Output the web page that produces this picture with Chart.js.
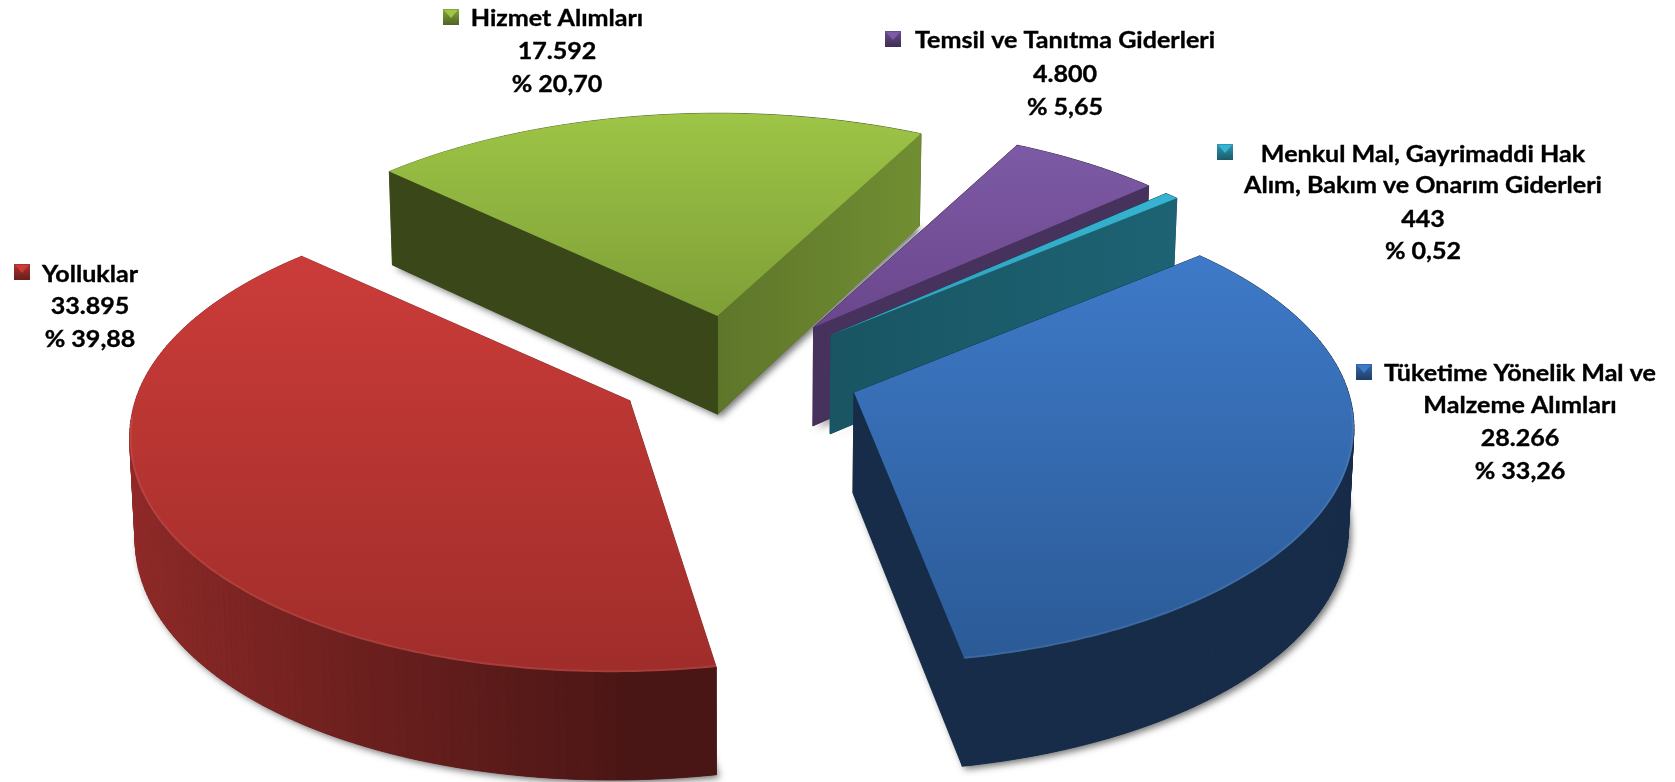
<!DOCTYPE html>
<html lang="tr"><head><meta charset="utf-8">
<style>html,body{margin:0;padding:0;background:#fff;overflow:hidden}canvas{display:block}</style>
<script src="https://cdn.jsdelivr.net/npm/chart.js@4"></script>
</head><body><canvas id="c" width="1675" height="782"></canvas>
<script>
const categories = ["Yolluklar","Hizmet Alımları","Temsil ve Tanıtma Giderleri","Menkul Mal, Gayrimaddi Hak\nAlım, Bakım ve Onarım Giderleri","Tüketime Yönelik Mal ve\nMalzeme Alımları"];
const values = [33895,17592,4800,443,28266];
const topColors = ["#cb3c39","#9dc546","#7d5aa5","#35b4d2","#3e7ac8"];
const bottomColors = ["#a02d2a","#7f9f37","#6a468c","#2f9fba","#2b5a96"];

const KX=1.485, KY=0.697, PERSP=0.145, DEPTH=100;
const drawOrder=[1,2,3,4,0];
const frontSkew=[-0.037,0,0,0,0.013];
const cutLit=[[.55,.68],[.6,.72],[.56,.56],[.47,.55],[.55,.68]];
const labelLayout=[
 {key:[14,264],cx:90,base:[282,314,347]},
 {key:[443,9],cx:557,base:[26,59,92]},
 {key:[885,31],cx:1065,base:[48,82,115]},
 {key:[1217,144],cx:1423,base:[162,193,227,259]},
 {key:[1356,364],cx:1520,base:[381,413,446,479]}
];
function hex(c){return [1,3,5].map(i=>parseInt(c.substr(i,2),16));}
function shade(c,f){const r=hex(c).map(x=>Math.round(x*f));return `rgb(${r[0]},${r[1]},${r[2]})`;}
function fmt(n){return String(n).replace(/\B(?=(\d{3})+$)/g,'.');}
const total=values.reduce((a,b)=>a+b,0);

const pie3d={id:'pie3d',
 beforeDatasetDraw(chart,args){
  const ctx=chart.ctx, meta=chart.getDatasetMeta(0);
  drawOrder.forEach(i=>drawSlice(ctx,meta.data[i],i));
  return false;
 },
 afterDraw(chart){
  const ctx=chart.ctx;
  ctx.save();ctx.textAlign='center';ctx.textBaseline='alphabetic';ctx.font='bold 22px Lato';
  categories.forEach((c,i)=>{
    const L=labelLayout[i];
    const lines=c.split('\n').concat([fmt(values[i]),'% '+(values[i]/total*100).toFixed(2).replace('.',',')]);
    ctx.fillStyle='#000';ctx.strokeStyle='#000';ctx.lineWidth=.35;
    lines.forEach((t,j)=>{ctx.save();ctx.translate(L.cx,L.base[j]);ctx.scale(1.14,1);ctx.fillText(t,0,0);ctx.strokeText(t,0,0);ctx.restore();});
    const [kx,ky]=L.key,s=16;
    const g=ctx.createLinearGradient(0,ky,0,ky+s);
    g.addColorStop(0,shade(topColors[i],.85));g.addColorStop(1,shade(topColors[i],.5));
    ctx.fillStyle=g;ctx.fillRect(kx,ky,s,s);
    ctx.fillStyle=topColors[i];
    ctx.beginPath();ctx.moveTo(kx+1,ky+1);ctx.lineTo(kx+s-1,ky+1);ctx.lineTo(kx+s/2,ky+s/2+1);ctx.closePath();ctx.fill();
  });
  ctx.restore();
 }
};
function drawSlice(ctx,arc,i){
 const {x,y,startAngle:a0,endAngle:a1,outerRadius:R}=arc.getProps(['x','y','startAngle','endAngle','outerRadius'],true);
 const mid=(a0+a1)/2, d=arc.options.offset/R;
 const P=(u,v,z)=>{
  const w=1-PERSP*v;
  const sk=v>0?frontSkew[i]*v*v:0;
  let X=x+KX*R*(d*Math.cos(mid)+u/w+sk), Y=y+KY*R*(d*Math.sin(mid)+v/w);
  if(z){const dp=DEPTH*(1+.07*(v+d*Math.sin(mid)));X=x+(X-x)*.991;Y+=dp;}
  return [X,Y];
 };
 const base=topColors[i];
 const n=Math.max(2,Math.ceil((a1-a0)/(Math.PI/180)));
 const rim=[];for(let k=0;k<=n;k++){const a=a0+(a1-a0)*k/n;rim.push([Math.cos(a),Math.sin(a)]);}
 const poly=(pts)=>{ctx.beginPath();pts.forEach((p,j)=>j?ctx.lineTo(p[0],p[1]):ctx.moveTo(p[0],p[1]));ctx.closePath();};
 ctx.save();
 ctx.shadowColor='rgba(0,0,0,.55)';ctx.shadowBlur=7;ctx.shadowOffsetX=3;ctx.shadowOffsetY=3;
 ctx.fillStyle=shade(base,.36);
 poly([P(0,0,1),...rim.map(r=>P(r[0],r[1],1))]);ctx.fill();
 ctx.restore();
 const faces=[];
 const cut=(r,sign)=>{
  const nx=-r[1]*sign;
  const f0=nx>0?cutLit[i][0]:.36,f1=nx>0?cutLit[i][1]:.36;
  const A=P(0,0,0),B=P(r[0],r[1],0),C=P(r[0],r[1],1),D=P(0,0,1);
  const g=ctx.createLinearGradient(A[0],0,B[0],0);
  g.addColorStop(0,shade(base,f0));g.addColorStop(1,shade(base,f1));
  faces.push({v:r[1]/2,pts:[A,B,C,D],fill:g});
 };
 cut(rim[0],-1);cut(rim[n],1);
 for(let k=0;k<n;k++){
  const r0=rim[k],r1=rim[k+1],um=(r0[0]+r1[0])/2,vm=(r0[1]+r1[1])/2;
  const f=um<0?.38-.34*um:.36;
  faces.push({v:vm,pts:[P(r0[0],r0[1],0),P(r1[0],r1[1],0),P(r1[0],r1[1],1),P(r0[0],r0[1],1)],fill:shade(base,f)});
 }
 faces.sort((a,b)=>a.v-b.v).forEach(q=>{poly(q.pts);ctx.fillStyle=q.fill;ctx.strokeStyle=q.fill;ctx.lineWidth=.8;ctx.fill();ctx.stroke();});
 const top=[P(0,0,0),...rim.map(r=>P(r[0],r[1],0))];
 const ys=top.map(p=>p[1]);
 const g=ctx.createLinearGradient(0,Math.min(...ys),0,Math.max(...ys));
 g.addColorStop(0,topColors[i]);g.addColorStop(1,bottomColors[i]);
 poly(top);ctx.fillStyle=g;ctx.fill();
 ctx.save();poly(top);ctx.clip();
 ctx.beginPath();let on=false;
 rim.forEach(r=>{if(r[1]<0.05){on=false;return;}const p=P(r[0],r[1],0);on?ctx.lineTo(p[0],p[1]):ctx.moveTo(p[0],p[1]);on=true;});
 ctx.strokeStyle='rgba(255,255,255,.08)';ctx.lineWidth=4;ctx.stroke();ctx.restore();
}
new Chart(document.getElementById('c'),{
 type:'pie',
 data:{labels:categories.map(c=>c.replace('\n',' ')),datasets:[{data:values,backgroundColor:topColors,offset:83,borderWidth:0,radius:333}]},
 options:{responsive:false,animation:false,rotation:169.6,
  layout:{padding:{right:199,bottom:36}},
  plugins:{legend:{display:false},tooltip:{enabled:false}}},
 plugins:[pie3d]
});
</script></body></html>
